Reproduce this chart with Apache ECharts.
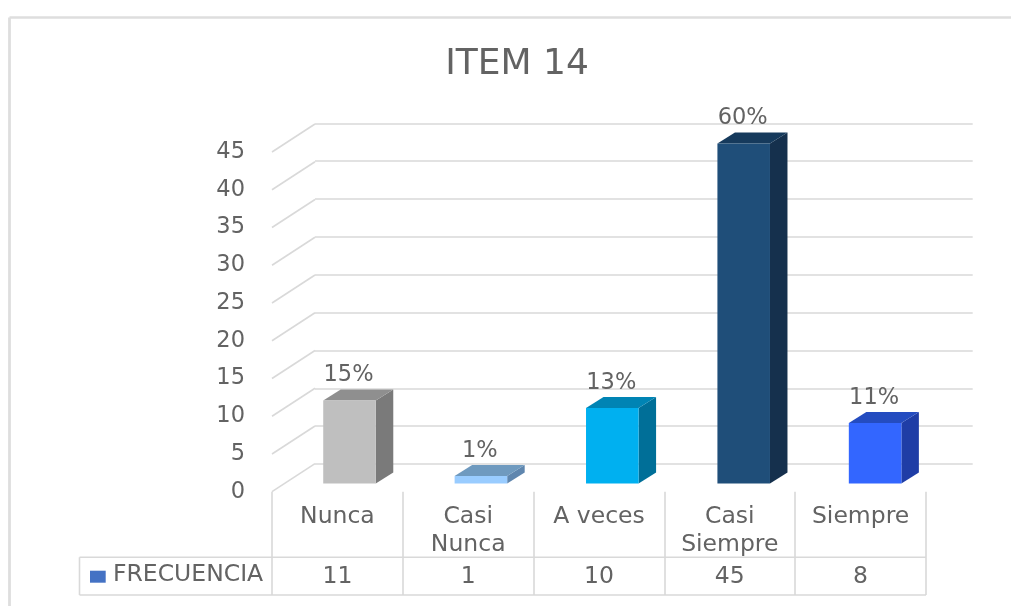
<!DOCTYPE html>
<html>
<head>
<meta charset="utf-8">
<style>html,body{margin:0;padding:0;background:#fff}#c{width:1011px;height:606px}</style>
<script src="https://cdn.jsdelivr.net/npm/echarts@6/dist/echarts.min.js"></script>
</head>
<body>
<div id="c"></div>
<script>
var categories = ['Nunca', 'Casi\nNunca', 'A veces', 'Casi\nSiempre', 'Siempre'];
var frecuencia = [11, 1, 10, 45, 8];
var percentLabels = ['15%', '1%', '13%', '60%', '11%'];
var yTicks = [0, 5, 10, 15, 20, 25, 30, 35, 40, 45];
var frontColors = ['#BFBFBF', '#99CCFF', '#00B0F0', '#1F4E79', '#3366FF'];
var topColors = ['#8F8F8F', '#6F9ABF', '#0084B4', '#163A5C', '#244CC0'];
var sideColors = ['#7A7A7A', '#5F86AE', '#006F98', '#15304D', '#1F3DA6'];

var FONT = '"DejaVu Sans"';
var TXT = '#636363';
var LINE = '#D9D9D9';
var chart = echarts.init(document.getElementById('c'), null, {renderer: 'canvas'});

function hLine(x1, y1, x2, y2, w, c) {
  return {type: 'line', silent: true, shape: {x1: x1, y1: y1, x2: x2, y2: y2},
          style: {stroke: c || LINE, lineWidth: w || 1.6}};
}

chart.setOption({
  animation: false,
  backgroundColor: '#fff',
  title: {
    text: 'ITEM 14', left: 512, top: 42, textAlign: 'center',
    textStyle: {fontFamily: FONT, fontSize: 36, fontWeight: 'normal', color: TXT}
  },
  grid: [
    {left: 272, top: 152, width: 654, height: 339.7},
    {left: 315, top: 123.3, width: 657.7, height: 340.7},
    {left: 283.8, top: 143.5, width: 657, height: 340}
  ],
  xAxis: [
    {gridIndex: 0, type: 'category', data: categories,
     axisLine: {show: false},
     axisTick: {show: true, alignWithLabel: false, length: 103.3, lineStyle: {color: LINE, width: 1.6}},
     axisLabel: {fontFamily: FONT, fontSize: 23.5, color: TXT, lineHeight: 28, margin: 11, interval: 0, verticalAlign: 'top'}},
    {gridIndex: 1, type: 'category', data: categories, show: false},
    {gridIndex: 2, type: 'category', data: categories, show: false},
    {gridIndex: 0, type: 'category', data: frecuencia.map(String), position: 'bottom', offset: 71,
     axisLine: {show: false}, axisTick: {show: false},
     axisLabel: {fontFamily: FONT, fontSize: 23.5, color: TXT, lineHeight: 28, margin: 0, interval: 0, verticalAlign: 'top'}}
  ],
  yAxis: [
    {gridIndex: 0, type: 'value', min: 0, max: 45, interval: 5,
     axisLine: {show: false}, axisTick: {show: false}, splitLine: {show: false},
     axisLabel: {fontFamily: FONT, fontSize: 22.5, color: TXT, margin: 27, lineHeight: 26, padding: [5, 0, 0, 0], verticalAlign: 'middle'}},
    {gridIndex: 1, type: 'value', min: 0, max: 45, interval: 5,
     axisLine: {show: false}, axisTick: {show: false}, axisLabel: {show: false},
     splitLine: {show: true, lineStyle: {color: LINE, width: 1.6}}},
    {gridIndex: 2, type: 'value', min: 0, max: 45, interval: 5, show: false}
  ],
  series: [
    {
      type: 'custom', xAxisIndex: 0, yAxisIndex: 0, silent: true, z: 2,
      data: yTicks.map(function (v) { return [0, v]; }),
      encode: {x: 0, y: 1},
      renderItem: function (params, api) {
        var y = api.coord([0, api.value(1)])[1];
        var x = params.coordSys.x;
        return {type: 'line', shape: {x1: x, y1: y, x2: x + 43, y2: y - 28},
                style: {stroke: LINE, lineWidth: 1.6, fill: null}};
      }
    },
    {
      type: 'custom', xAxisIndex: 2, yAxisIndex: 2, silent: true, z: 5,
      data: frecuencia.map(function (v, i) { return [i, v]; }),
      encode: {x: 0, y: 1},
      renderItem: function (params, api) {
        var i = api.value(0), v = api.value(1);
        var top = api.coord([i, v]), base = api.coord([i, 0]);
        var w = api.size([1, 0])[0] * 0.4, dx = 17.5, dy = 11;
        var l = top[0] - w / 2, r = top[0] + w / 2, t = top[1], b = base[1];
        return {type: 'group', children: [
          {type: 'polygon', shape: {points: [[r, t], [r + dx, t - dy], [r + dx, b - dy], [r, b]]},
           style: {fill: sideColors[i]}},
          {type: 'polygon', shape: {points: [[l, t], [l + dx, t - dy], [r + dx, t - dy], [r, t]]},
           style: {fill: topColors[i]}},
          {type: 'rect', shape: {x: l, y: t, width: w, height: b - t},
           style: {fill: frontColors[i]}},
          {type: 'text', style: {text: percentLabels[i], x: top[0] - 1, y: t - 25, fill: TXT,
            font: '22.5px ' + FONT, align: 'center', verticalAlign: 'middle'}}
        ]};
      }
    }
  ],
  graphic: [
    hLine(9.5, 17.5, 1011, 17.5, 2.6, '#DEDEDE'),
    hLine(9.5, 17.5, 9.5, 606, 2.8, '#DEDEDE'),
    hLine(79.5, 557.3, 926, 557.3),
    hLine(79.5, 595, 926, 595),
    hLine(79.5, 557.3, 79.5, 595),
    {type: 'rect', silent: true, shape: {x: 90, y: 570.7, width: 15.7, height: 12}, style: {fill: '#4472C4'}},
    {type: 'text', silent: true, style: {text: 'FRECUENCIA', x: 113, y: 575, fill: TXT,
      font: '23.5px ' + FONT, align: 'left', verticalAlign: 'middle'}}
  ]
});
</script>
</body>
</html>
